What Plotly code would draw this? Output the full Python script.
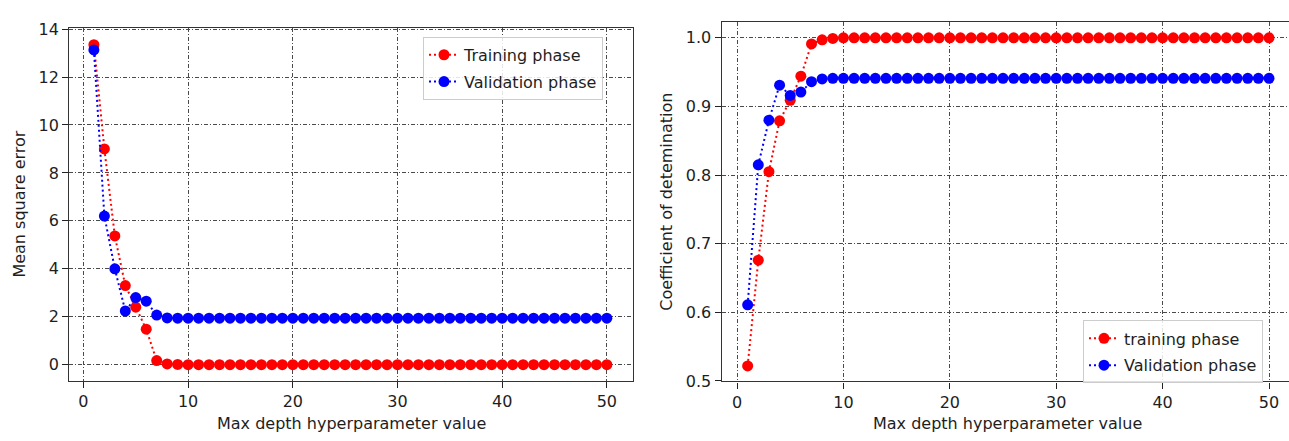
import plotly.graph_objects as go

# Max depth values swept during tuning
depth = list(range(1, 51))

# Mean square error per depth
mse_train = [13.35, 9.00, 5.37, 3.30, 2.40, 1.48, 0.17, 0.03, 0.01, 0.00,
             0.00, 0.00, 0.00, 0.00, 0.00, 0.00, 0.00, 0.00, 0.00, 0.00,
             0.00, 0.00, 0.00, 0.00, 0.00, 0.00, 0.00, 0.00, 0.00, 0.00,
             0.00, 0.00, 0.00, 0.00, 0.00, 0.00, 0.00, 0.00, 0.00, 0.00,
             0.00, 0.00, 0.00, 0.00, 0.00, 0.00, 0.00, 0.00, 0.00, 0.00]
mse_valid = [13.13, 6.20, 4.00, 2.24, 2.80, 2.65, 2.07, 1.95, 1.94, 1.94,
             1.94, 1.94, 1.94, 1.94, 1.94, 1.94, 1.94, 1.94, 1.94, 1.94,
             1.94, 1.94, 1.94, 1.94, 1.94, 1.94, 1.94, 1.94, 1.94, 1.94,
             1.94, 1.94, 1.94, 1.94, 1.94, 1.94, 1.94, 1.94, 1.94, 1.94,
             1.94, 1.94, 1.94, 1.94, 1.94, 1.94, 1.94, 1.94, 1.94, 1.94]

# Coefficient of determination per depth
r2_train = [0.522, 0.676, 0.805, 0.879, 0.909, 0.944, 0.991, 0.997, 0.999, 1.000,
            1.000, 1.000, 1.000, 1.000, 1.000, 1.000, 1.000, 1.000, 1.000, 1.000,
            1.000, 1.000, 1.000, 1.000, 1.000, 1.000, 1.000, 1.000, 1.000, 1.000,
            1.000, 1.000, 1.000, 1.000, 1.000, 1.000, 1.000, 1.000, 1.000, 1.000,
            1.000, 1.000, 1.000, 1.000, 1.000, 1.000, 1.000, 1.000, 1.000, 1.000]
r2_valid = [0.611, 0.815, 0.880, 0.931, 0.916, 0.921, 0.936, 0.940, 0.941, 0.941,
            0.941, 0.941, 0.941, 0.941, 0.941, 0.941, 0.941, 0.941, 0.941, 0.941,
            0.941, 0.941, 0.941, 0.941, 0.941, 0.941, 0.941, 0.941, 0.941, 0.941,
            0.941, 0.941, 0.941, 0.941, 0.941, 0.941, 0.941, 0.941, 0.941, 0.941,
            0.941, 0.941, 0.941, 0.941, 0.941, 0.941, 0.941, 0.941, 0.941, 0.941]

x_ticks = [0, 10, 20, 30, 40, 50]
mse_ticks = [0, 2, 4, 6, 8, 10, 12, 14]
r2_ticks = [0.5, 0.6, 0.7, 0.8, 0.9, 1.0]

W, H = 1289, 441
FONT = "DejaVu Sans"
FS = 16
TXT = "#1e1e1e"
RED, BLUE = "#ff0000", "#0000ff"


def px_x(p):
    return p / W


def px_y(p):
    return 1 - p / H


def series(x, y, name, color, xa, ya, legend, group):
    return go.Scatter(
        x=x, y=y, name=name, mode="lines+markers",
        line=dict(color=color, width=2, dash="2px,3px"),
        marker=dict(color=color, size=11, symbol="circle"),
        xaxis=xa, yaxis=ya, legend=legend, legendgroup=group,
    )


fig = go.Figure()
fig.add_trace(series(depth, mse_train, "Training phase", RED, "x", "y", "legend", "a"))
fig.add_trace(series(depth, mse_valid, "Validation phase", BLUE, "x", "y", "legend", "b"))
fig.add_trace(series(depth, r2_train, "training phase", RED, "x2", "y2", "legend2", "c"))
fig.add_trace(series(depth, r2_valid, "Validation phase", BLUE, "x2", "y2", "legend2", "d"))

grid = dict(showgrid=True, gridcolor="#4a4a4a", gridwidth=1, griddash="4px,2px,1px,2px",
            zeroline=False, ticks="outside", ticklen=6, tickwidth=1.3, tickcolor="#222",
            showline=True, linecolor="#333", linewidth=1.4,
            tickfont=dict(family=FONT, size=FS, color=TXT))

fig.update_layout(
    width=W, height=H,
    margin=dict(l=0, r=0, t=0, b=0),
    paper_bgcolor="white", plot_bgcolor="white",
    font=dict(family=FONT, size=FS, color=TXT),
    xaxis=dict(domain=[px_x(69.3), px_x(632.7)], range=[-1.35, 52.47],
               tickvals=x_ticks, mirror=True, anchor="y", **grid),
    yaxis=dict(domain=[px_y(387.7), px_y(20.7)], range=[-0.67, 14.05],
               tickvals=mse_ticks, mirror=True, anchor="x", **grid),
    xaxis2=dict(domain=[px_x(721.7), 1.0], range=[-1.44, 51.88],
                tickvals=x_ticks, mirror=True, anchor="y2", **grid),
    yaxis2=dict(domain=[px_y(388.3), px_y(15)], range=[0.4995, 1.0224],
                tickvals=r2_ticks, tickformat=".1f", anchor="x2", **grid),
    legend=dict(x=px_x(423), y=px_y(30), xanchor="left", yanchor="top",
                bgcolor="rgba(255,255,255,0.85)", bordercolor="#cccccc", borderwidth=1,
                font=dict(family=FONT, size=FS, color=TXT), tracegroupgap=3,
                itemwidth=30),
    legend2=dict(x=px_x(1083), y=px_y(325), xanchor="left", yanchor="top",
                 bgcolor="rgba(255,255,255,0.85)", bordercolor="#cccccc", borderwidth=1,
                 font=dict(family=FONT, size=FS, color=TXT), tracegroupgap=3,
                 itemwidth=30),
    showlegend=True,
)

# Axis titles
titles = [
    dict(text="Max depth hyperparameter value", x=px_x(351), y=px_y(432), textangle=0),
    dict(text="Max depth hyperparameter value", x=px_x(1008), y=px_y(432), textangle=0),
    dict(text="Mean square error", x=px_x(20), y=px_y(204.5), textangle=-90),
    dict(text="Coefficient of detemination", x=px_x(667), y=px_y(201.5), textangle=-90),
]
for t in titles:
    fig.add_annotation(text=t["text"], x=t["x"], y=t["y"], xref="paper", yref="paper",
                       xanchor="center", yanchor="middle", showarrow=False,
                       textangle=t["textangle"],
                       font=dict(family=FONT, size=FS, color=TXT))

fig.write_html("out.html")
